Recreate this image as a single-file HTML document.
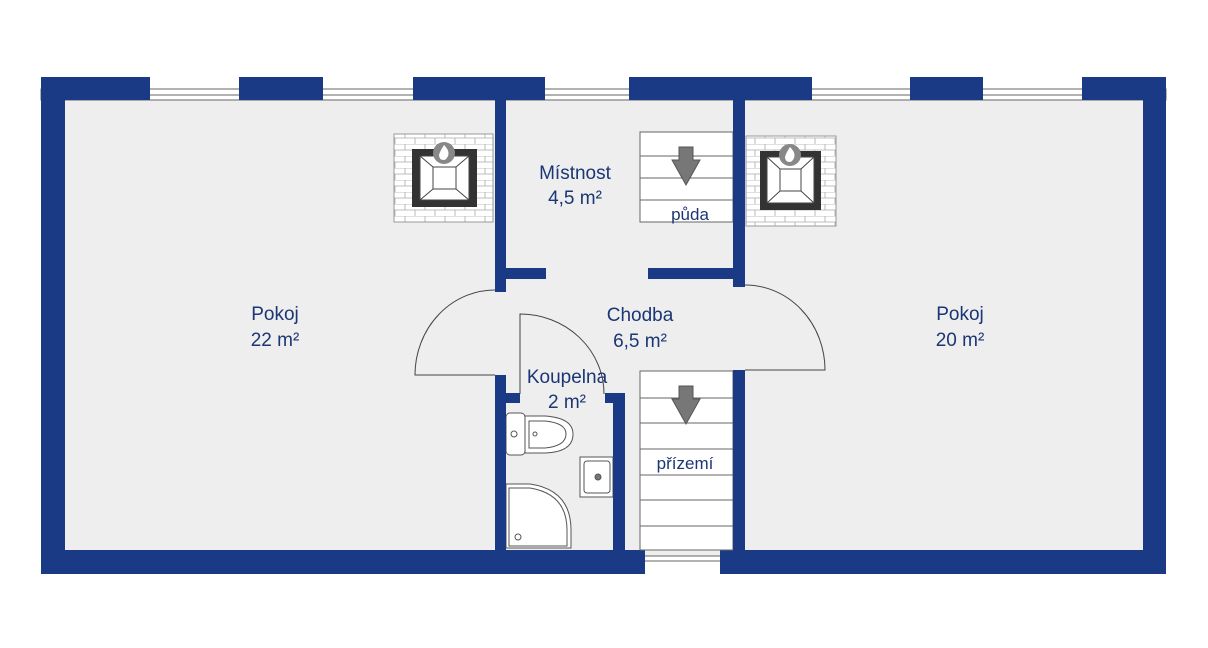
<!DOCTYPE html>
<html><head><meta charset="utf-8"><style>
html,body{margin:0;padding:0;background:#fff}
svg{display:block}
text{font-family:"Liberation Sans",sans-serif;fill:#1b3674;font-size:19px;text-anchor:middle}
</style></head><body>
<svg width="1208" height="648" viewBox="0 0 1208 648" xmlns="http://www.w3.org/2000/svg">
<defs>
<pattern id="brick" width="20" height="12" patternUnits="userSpaceOnUse">
<rect width="20" height="12" fill="#fff"/>
<path d="M0 0H20M0 6H20M5 0V6M15 6V12" stroke="#aaa" stroke-width="0.8" fill="none"/>
</pattern>
</defs>
<!-- floor -->
<rect x="41" y="89" width="1125" height="485" fill="#eeeeee"/>
<!-- top windows -->
<g stroke="#666" stroke-width="1">
<rect x="41" y="89" width="1125" height="11" fill="#fff"/>
<line x1="41" y1="95" x2="1166" y2="95"/>
</g>
<!-- top wall segments -->
<g fill="#1a3a86">
<rect x="41" y="77" width="109" height="23"/>
<rect x="239" y="77" width="84" height="23"/>
<rect x="413" y="77" width="132" height="23"/>
<rect x="629" y="77" width="183" height="23"/>
<rect x="910" y="77" width="73" height="23"/>
<rect x="1082" y="77" width="84" height="23"/>
<rect x="41" y="77" width="24" height="497"/>
<rect x="1143" y="77" width="23" height="497"/>
<rect x="41" y="550" width="604" height="24"/>
<rect x="720" y="550" width="446" height="24"/>
</g>
<!-- bottom window -->
<rect x="645" y="556" width="75" height="18" fill="#fff"/>
<line x1="645" y1="556" x2="720" y2="556" stroke="#666"/>
<line x1="645" y1="561" x2="720" y2="561" stroke="#666"/>
<!-- stairs -->
<g stroke="#666" stroke-width="1" fill="#fff">
<rect x="640" y="132" width="93" height="90"/>
<line x1="640" y1="156" x2="733" y2="156"/>
<line x1="640" y1="178" x2="733" y2="178"/>
<line x1="640" y1="200" x2="733" y2="200"/>
<rect x="640" y="371" width="93" height="179"/>
<line x1="640" y1="398" x2="733" y2="398"/>
<line x1="640" y1="423" x2="733" y2="423"/>
<line x1="640" y1="449" x2="733" y2="449"/>
<line x1="640" y1="475" x2="733" y2="475"/>
<line x1="640" y1="500" x2="733" y2="500"/>
<line x1="640" y1="526" x2="733" y2="526"/>
</g>
<polygon points="679,147 693,147 693,160 700,160 686,185 672,160 679,160" fill="#777" stroke="#555"/>
<polygon points="679,386 693,386 693,399 700,399 686,424 672,399 679,399" fill="#777" stroke="#555"/>
<!-- fireplaces -->
<g>
<rect x="394" y="134" width="99" height="88" fill="url(#brick)" stroke="#999"/>
<rect x="412" y="149" width="65" height="58" fill="#333"/>
<rect x="420" y="156" width="49" height="44" fill="#fff" stroke="#444"/>
<rect x="433" y="167" width="23" height="22" fill="#fff" stroke="#444"/>
<path d="M420 156L433 167M469 156L456 167M420 200L433 189M469 200L456 189" stroke="#444"/>
<circle cx="444" cy="153" r="11" fill="#888"/>
<path d="M444 145q6 6 4 11q-2 4 -4 4q-5 0 -5 -5q1 -4 5 -10z" fill="#fff"/>
<rect x="746" y="136" width="90" height="90" fill="url(#brick)" stroke="#999"/>
<rect x="760" y="151" width="61" height="59" fill="#333"/>
<rect x="767" y="157" width="47" height="46" fill="#fff" stroke="#444"/>
<rect x="780" y="169" width="21" height="22" fill="#fff" stroke="#444"/>
<path d="M767 157L780 169M814 157L801 169M767 203L780 191M814 203L801 191" stroke="#444"/>
<circle cx="790" cy="155" r="11" fill="#888"/>
<path d="M790 147q6 6 4 11q-2 4 -4 4q-5 0 -5 -5q1 -4 5 -10z" fill="#fff"/>
</g>
<!-- doors -->
<g fill="none" stroke="#444" stroke-width="1">
<path d="M495 375H415A80 85 0 0 1 497 290"/>
<path d="M745 370H825A80 85 0 0 0 743 285"/>
<path d="M520 394V314A84 80 0 0 1 604 394"/>
</g>
<!-- bathroom fixtures -->
<g stroke="#555" stroke-width="1" fill="#fff">
<rect x="506" y="413" width="19" height="42" rx="4"/>
<path d="M525 416H545Q573 418 573 434Q573 452 545 453H525Z"/>
<path d="M529 421H545Q566 423 566 434Q566 446 545 448H529Z"/>
<circle cx="514" cy="434" r="3"/><circle cx="535" cy="434" r="2"/>
<rect x="580" y="457" width="33" height="40"/>
<rect x="584" y="461" width="26" height="32" rx="3"/>
<circle cx="598" cy="477" r="3" fill="#777"/>
<path d="M506 484H530Q571 490 571 530V548H506Z"/>
<path d="M509 488H530Q567 494 567 530V546H509Z"/>
<circle cx="518" cy="537" r="3"/>
</g>
<!-- interior walls -->
<g fill="#1a3a86">
<rect x="495" y="100" width="11" height="192"/>
<rect x="506" y="268" width="40" height="11"/>
<rect x="733" y="100" width="12" height="187"/>
<rect x="648" y="268" width="85" height="11"/>
<rect x="495" y="375" width="11" height="175"/>
<rect x="506" y="393" width="14" height="10"/>
<rect x="605" y="393" width="20" height="10"/>
<rect x="613" y="393" width="12" height="157"/>
<rect x="733" y="370" width="12" height="180"/>
</g>
<!-- labels -->
<text x="275" y="320">Pokoj</text><text x="275" y="346">22 m²</text>
<text x="575" y="179">Místnost</text><text x="575" y="204">4,5 m²</text>
<text x="640" y="321">Chodba</text><text x="640" y="347">6,5 m²</text>
<text x="567" y="383">Koupelna</text><text x="567" y="408">2 m²</text>
<text x="960" y="320">Pokoj</text><text x="960" y="346">20 m²</text>
<text x="690" y="220" style="font-size:17px">půda</text>
<text x="685" y="469" style="font-size:17px">přízemí</text>
</svg>
</body></html>
